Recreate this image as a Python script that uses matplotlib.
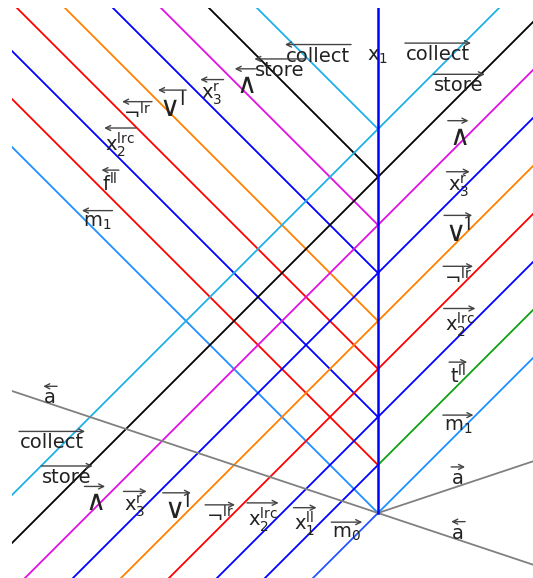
import matplotlib
matplotlib.use("Agg")
import matplotlib.pyplot as plt
from matplotlib.patches import Rectangle

plt.rcParams['mathtext.fontset'] = 'dejavusans'

# heights where signals meet the vertical line (one unit per signal)
levels = [0, 1, 2, 3, 4, 5, 6, 7, 8]

# left-moving signals coming in from the top left
left_in_colors = ['#1e90ff', 'red', 'blue', 'red', '#ff8000', 'blue', '#e010e0', 'black', '#20b0e8']
# right-moving signals, part below / left of the vertical line
right_low_colors = ['#2255ff', 'blue', 'blue', 'red', '#ff8000', 'blue', '#e010e0', 'black', '#20b0e8']
# right-moving signals, part right of the vertical line
right_high_colors = ['#1e90ff', '#10a010', 'blue', 'red', '#ff8000', 'blue', '#e010e0', 'black', '#20b0e8']

gray_slope = 1.0 / 3.0

AND = r'$\wedge$'
OR = r'$\vee^\mathrm{l}$'

# labels: text, arrow direction (+1 right, -1 left)
labels_right = ['collect', 'store', AND, r'$\mathrm{x_3^r}$', OR,
                r'$\neg^\mathrm{lr}$', r'$\mathrm{x_2^{lrc}}$', r'$\mathrm{t^{ll}}$', r'$\mathrm{m_1}$', 'a', 'a']
dirs_right = [1, 1, 1, 1, 1, 1, 1, 1, 1, 1, -1]
pos_right = [(1.25, 9.55), (1.69, 8.9), (1.67, 7.84), (1.67, 6.8), (1.67, 5.84),
             (1.67, 4.9), (1.7, 3.92), (1.67, 2.86), (1.67, 1.8), (1.67, 0.72), (1.67, -0.42)]

labels_topleft = ['collect', 'store', AND, r'$\mathrm{x_3^r}$', OR,
                  r'$\neg^\mathrm{lr}$', r'$\mathrm{x_2^{lrc}}$', r'$\mathrm{f^{ll}}$', r'$\mathrm{m_1}$']
dirs_topleft = [-1, -1, -1, -1, -1, -1, -1, -1, -1]
pos_topleft = [(-1.25, 9.52), (-2.04, 9.22), (-2.77, 8.92), (-3.46, 8.72), (-4.29, 8.45),
               (-5.02, 8.33), (-5.375, 7.68), (-5.58, 6.86), (-5.85, 6.06)]

labels_botleft = ['a', 'collect', 'store', AND, r'$\mathrm{x_3^r}$',
                  OR, r'$\neg^\mathrm{lr}$', r'$\mathrm{x_2^{lrc}}$', r'$\mathrm{x_1^{ll}}$', r'$\mathrm{m_0}$']
dirs_botleft = [-1, 1, 1, 1, 1, 1, 1, 1, 1, 1]
pos_botleft = [(-6.83, 2.4), (-6.79, 1.46), (-6.48, 0.74), (-5.9, 0.22), (-5.06, 0.14),
               (-4.19, 0.06), (-3.29, -0.07), (-2.4, -0.13), (-1.52, -0.23), (-0.65, -0.43)]

u = 48.0
fig = plt.figure(figsize=(5.33, 5.78), dpi=100)
ax = fig.add_axes([0, 0, 1, 1])
x0, x1 = -378 / u, 155 / u
y0, y1 = -65 / u, 513 / u
ax.set_xlim(x0, x1)
ax.set_ylim(y0, y1)
ax.axis('off')

clip_left = (12 - 378) / u
clip_top = (513 - 8) / u
box = Rectangle((clip_left, y0 - 1), x1 - clip_left + 1, clip_top - y0 + 1, transform=ax.transData,
                fill=False, visible=False)
ax.add_patch(box)

lw = 1.3
far = 20
for k, c in zip(levels, left_in_colors):
    l, = ax.plot([-far, 0], [k + far, k], color=c, lw=lw)
    l.set_clip_path(box)
for k, c in zip(levels, right_low_colors):
    l, = ax.plot([-far, 0], [k - far, k], color=c, lw=lw)
    l.set_clip_path(box)
for k, c in zip(levels, right_high_colors):
    l, = ax.plot([0, far], [k, k + far], color=c, lw=lw)
    l.set_clip_path(box)

# gray lines through the bottom point
l, = ax.plot([-far, far], [far * gray_slope, -far * gray_slope], color='gray', lw=lw)
l.set_clip_path(box)
l, = ax.plot([0, far], [0, far * gray_slope], color='gray', lw=lw)
l.set_clip_path(box)

# the vertical line
l, = ax.plot([0, 0], [0, far], color='blue', lw=1.8)
l.set_clip_path(box)

fs = 14
fs_big = 20
tc = '#222222'
ac = '#444444'
texts = []
for s, d, (x, y) in zip(labels_right + labels_topleft + labels_botleft,
                        dirs_right + dirs_topleft + dirs_botleft,
                        pos_right + pos_topleft + pos_botleft):
    size = fs_big if s in (AND, OR) else fs
    t = ax.text(x, y, s, fontsize=size, color=tc, ha='center', va='center')
    texts.append((t, d))
ax.text(0, 9.5, r'$\mathrm{x_1}$', fontsize=fs, color=tc, ha='center', va='center')

# arrows over the labels, as wide as the text
fig.canvas.draw()
renderer = fig.canvas.get_renderer()
for t, d in texts:
    bb = t.get_window_extent(renderer)
    ya = bb.y1 + 2
    xl, xr = bb.x0 - 1, bb.x1 + 1
    if d > 0:
        start, end = (xl, ya), (xr, ya)
    else:
        start, end = (xr, ya), (xl, ya)
    ax.annotate('', xy=end, xytext=start, xycoords='figure pixels', textcoords='figure pixels',
                arrowprops=dict(arrowstyle='->', lw=1.0, color=ac, shrinkA=0, shrinkB=0,
                                mutation_scale=9))

fig.savefig('out.png', dpi=100)
